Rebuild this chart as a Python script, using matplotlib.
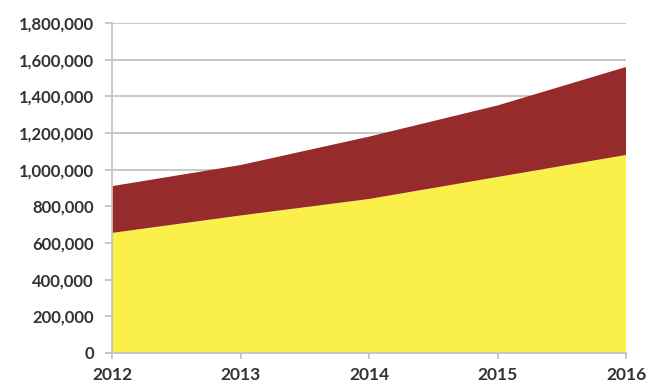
import numpy as np
import matplotlib
matplotlib.use("Agg")
import matplotlib.pyplot as plt
from matplotlib.ticker import FuncFormatter, MultipleLocator

# Stacked series, one value per year
years = [2012, 2013, 2014, 2015, 2016]
lower = [655000, 750000, 840000, 960000, 1080000]
upper = [255000, 275000, 340000, 390000, 480000]

yellow = "#FBF04A"
dark_red = "#962B2B"
grid_grey = "#C4C4C4"

plt.rcParams['font.family'] = ['Lato', 'DejaVu Sans']

fig = plt.figure(figsize=(6.49, 3.86), dpi=100)
ax = fig.add_axes([0.1726, 0.0855, 0.792, 0.855])

ax.stackplot(years, lower, upper, colors=[yellow, dark_red], linewidth=0)

ax.set_xlim(years[0], years[-1])
ax.set_ylim(0, 1800000)
ax.yaxis.set_major_locator(MultipleLocator(200000))
ax.yaxis.set_major_formatter(FuncFormatter(lambda v, p: f"{int(v):,}"))
ax.set_xticks(years)

ax.grid(axis='y', color=grid_grey, linewidth=1.3)
ax.set_axisbelow(True)

for side in ['top', 'right']:
    ax.spines[side].set_visible(False)
for side in ['left', 'bottom']:
    ax.spines[side].set_color(grid_grey)
    ax.spines[side].set_linewidth(1.3)

ax.tick_params(axis='both', colors=grid_grey, width=1.3)
ax.tick_params(axis='y', length=5, pad=8, labelsize=12)
ax.tick_params(axis='x', length=4, pad=6, labelsize=12.5)
ax.tick_params(axis='both', labelcolor='#333333')
for lbl in ax.get_xticklabels() + ax.get_yticklabels():
    lbl.set_fontweight('bold')

fig.savefig("out.png", dpi=100)
